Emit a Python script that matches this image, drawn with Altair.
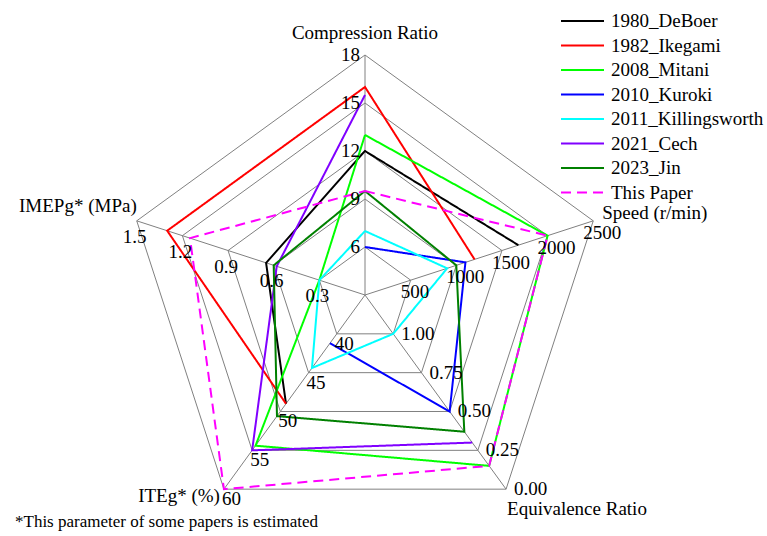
import math
import altair as alt
import pandas as pd

# ---- axes of the radar (clockwise from the top) ----
axis_names = ["Compression Ratio", "Speed (r/min)", "Equivalence Ratio", "ITEg* (%)", "IMEPg* (MPa)"]
axis_center = [3, 0, 1.25, 35, 0]        # value at the centre of each spoke
axis_outer = [18, 2500, 0.0, 60, 1.5]    # value at the outer ring
tick_values = [
    [6, 9, 12, 15, 18],
    [500, 1000, 1500, 2000, 2500],
    [1.00, 0.75, 0.50, 0.25, 0.00],
    [40, 45, 50, 55, 60],
    [0.3, 0.6, 0.9, 1.2, 1.5],
]
tick_text = [
    ["6", "9", "12", "15", "18"],
    ["500", "1000", "1500", "2000", "2500"],
    ["1.00", "0.75", "0.50", "0.25", "0.00"],
    ["40", "45", "50", "55", "60"],
    ["0.3", "0.6", "0.9", "1.2", "1.5"],
]

# ---- series (None = not reported) ----
series_names = ["1980_DeBoer", "1982_Ikegami", "2008_Mitani", "2010_Kuroki",
                "2011_Killingsworth", "2021_Cech", "2023_Jin", "This Paper"]
series_colors = ["#000000", "#ff0000", "#00ff00", "#0000ff",
                 "#00ffff", "#8000ff", "#008000", "#ff00ff"]
series_dash = [[1, 0]] * 7 + [[10, 6]]

compression_ratio = [12, 16, 13, 6, 7, 15.5, 9.5, 9.5]
speed = [1680, 1200, 2000, 1100, 900, None, 1000, 2000]
equivalence_ratio = [None, None, 0.15, 0.50, 1.00, 0.30, 0.37, 0.15]
iteg = [49, 49, 54.4, 41.2, 44.4, 55, 50.6, 60]
imepg = [0.65, 1.30, 0.30, None, 0.30, 0.58, 0.60, 1.15]

footnote = "*This parameter of some papers is estimated"

# ---- geometry helpers ----
N_AXES = len(axis_names)
N_RINGS = 5
FONT = "Liberation Serif"


def theta(k):
    return math.radians(90 - 72 * k)


def radius(k, v):
    return (v - axis_center[k]) / (axis_outer[k] - axis_center[k])


def polar(k, r):
    return r * math.cos(theta(k)), r * math.sin(theta(k))


# grid rings
ring_rows = []
for j in range(1, N_RINGS + 1):
    for i in range(N_AXES + 1):
        x, y = polar(i % N_AXES, j / N_RINGS)
        ring_rows.append({"ring": j, "ord": i, "x": x, "y": y})
rings_df = pd.DataFrame(ring_rows)

# spokes
spoke_rows = []
for k in range(N_AXES):
    x2, y2 = polar(k, 1.0)
    spoke_rows.append({"x": 0.0, "y": 0.0, "x2": x2, "y2": y2})
spokes_df = pd.DataFrame(spoke_rows)


def runs(vals):
    """Split a cyclic list into connected runs of available values."""
    n = len(vals)
    if all(v is not None for v in vals):
        return [list(range(n)) + [0]]
    start = next(i for i, v in enumerate(vals) if v is None)
    seq = [(start + 1 + i) % n for i in range(n)]
    out, cur = [], []
    for k in seq:
        if vals[k] is None:
            if len(cur) > 1:
                out.append(cur)
            cur = []
        else:
            cur.append(k)
    if len(cur) > 1:
        out.append(cur)
    return out


line_rows = []
for s, name in enumerate(series_names):
    vals = [compression_ratio[s], speed[s], equivalence_ratio[s], iteg[s], imepg[s]]
    for r_i, run in enumerate(runs(vals)):
        for o, k in enumerate(run):
            x, y = polar(k, radius(k, vals[k]))
            line_rows.append({"series": name, "seg": f"{name}-{r_i}", "ord": o, "x": x, "y": y})
lines_df = pd.DataFrame(line_rows)

# tick labels
tick_rows = []
for k in range(N_AXES):
    for v, t in zip(tick_values[k], tick_text[k]):
        x, y = polar(k, radius(k, v))
        tick_rows.append({"axis": k, "label": t, "x": x, "y": y})
ticks_df = pd.DataFrame(tick_rows)

# axis titles at the outer vertices
title_rows = []
for k in range(N_AXES):
    x, y = polar(k, 1.0)
    title_rows.append({"axis": k, "label": axis_names[k], "x": x, "y": y})
titles_df = pd.DataFrame(title_rows)

# ---- scales: centre of the radar at (365, 295) px, radius 240 px ----
W, H = 767, 536
CX, CY, R = 365, 295, 240
xs = alt.Scale(domain=[-CX / R, (W - CX) / R], range=[0, W], nice=False, zero=False)
ys = alt.Scale(domain=[-(H - CY) / R, CY / R], range=[H, 0], nice=False, zero=False)
X = alt.X("x:Q", scale=xs, axis=None)
Y = alt.Y("y:Q", scale=ys, axis=None)

rings = alt.Chart(rings_df).mark_line(color="#808080", strokeWidth=1).encode(
    x=X, y=Y, detail="ring:N", order="ord:Q")

spokes = alt.Chart(spokes_df).mark_rule(color="#808080", strokeWidth=1).encode(
    x=X, y=Y, x2="x2:Q", y2="y2:Q")

legend = alt.Legend(
    title=None, orient="none", legendX=560, legendY=10,
    symbolType="stroke", symbolSize=1849, symbolStrokeWidth=2,
    clipHeight=22, rowPadding=2.5, labelOffset=6,
    labelFont=FONT, labelFontSize=19, labelColor="black", padding=0,
)

series = alt.Chart(lines_df).mark_line(strokeWidth=2).encode(
    x=X, y=Y,
    color=alt.Color("series:N", sort=series_names,
                    scale=alt.Scale(domain=series_names, range=series_colors), legend=legend),
    strokeDash=alt.StrokeDash("series:N", sort=series_names,
                              scale=alt.Scale(domain=series_names, range=series_dash), legend=legend),
    detail="seg:N",
    order="ord:Q",
)


def tick_layer(k, align, dx, dy):
    return alt.Chart(ticks_df[ticks_df["axis"] == k]).mark_text(
        font=FONT, fontSize=19, color="black", align=align, baseline="middle", dx=dx, dy=dy
    ).encode(x=X, y=Y, text="label:N")


def title_layer(k, align, dx, dy):
    return alt.Chart(titles_df[titles_df["axis"] == k]).mark_text(
        font=FONT, fontSize=19, color="black", align=align, baseline="middle", dx=dx, dy=dy
    ).encode(x=X, y=Y, text="label:N")


tick_labels = [
    tick_layer(0, "right", -5, 0),
    tick_layer(1, "left", -10, 12),
    tick_layer(2, "left", 8, 0),
    tick_layer(3, "left", -2, 10),
    tick_layer(4, "center", -2, 16),
]
axis_titles = [
    title_layer(0, "center", 0, -22),
    title_layer(1, "left", 9, -8),
    title_layer(2, "left", 1, 20),
    title_layer(3, "right", -4, 7),
    title_layer(4, "right", 0, -15),
]

note = alt.Chart(pd.DataFrame({"t": [footnote]})).mark_text(
    font=FONT, fontSize=17, color="black", align="left", baseline="middle"
).encode(x=alt.value(15), y=alt.value(522), text="t:N")

chart = alt.layer(rings, spokes, series, *tick_labels, *axis_titles, note).properties(
    width=W, height=H, padding=0, autosize=alt.AutoSizeParams(type="none"),
    background="white",
).configure_view(stroke=None)

chart.save("out.html", embed_options={"renderer": "svg", "actions": False})
